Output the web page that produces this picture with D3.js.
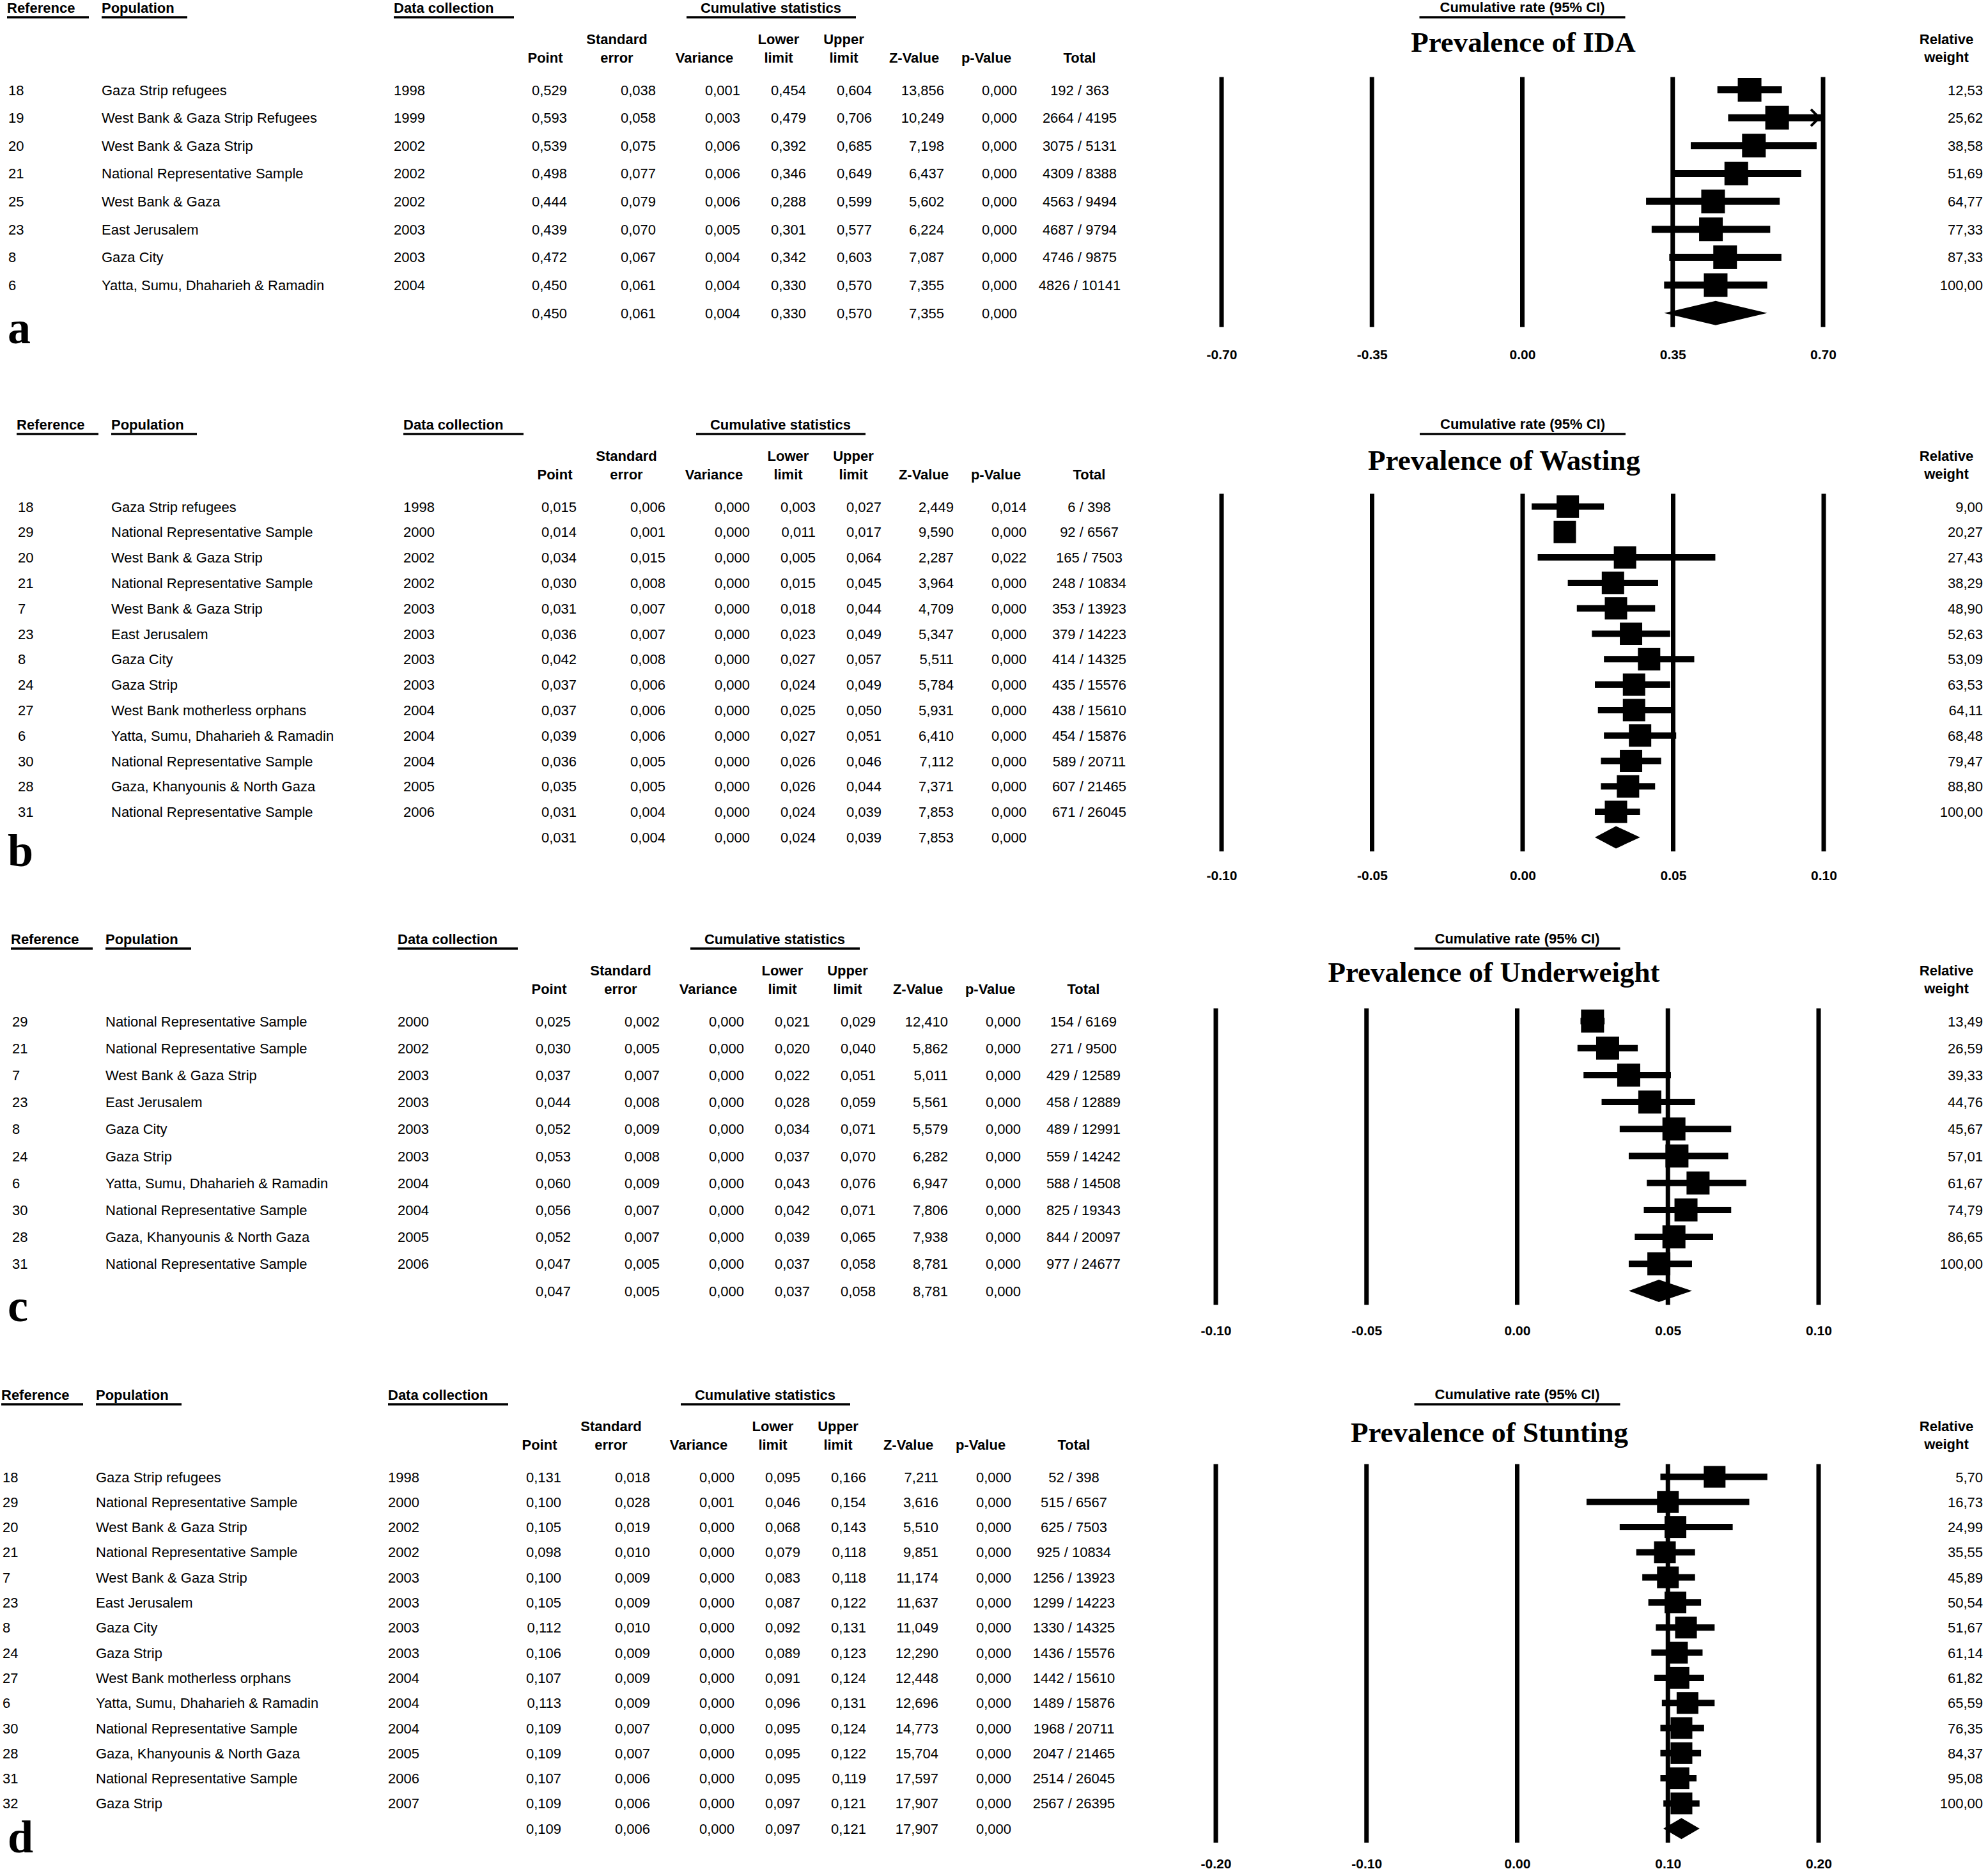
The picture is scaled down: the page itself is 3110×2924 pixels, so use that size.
<!DOCTYPE html>
<html><head><meta charset="utf-8">
<script src="https://cdn.jsdelivr.net/npm/d3@7"></script>
<style>body{margin:0;background:#fff}svg{display:block}</style>
</head><body>
<script>
// ===== Panel a : Prevalence of IDA =====
const aTitle = "Prevalence of IDA";
const aRefs = [18, 19, 20, 21, 25, 23, 8, 6];
const aPops = ["Gaza Strip refugees", "West Bank & Gaza Strip Refugees", "West Bank & Gaza Strip", "National Representative Sample", "West Bank & Gaza", "East Jerusalem", "Gaza City", "Yatta, Sumu, Dhaharieh & Ramadin"];
const aYears = [1998, 1999, 2002, 2002, 2002, 2003, 2003, 2004];
const aPoint = [0.529, 0.593, 0.539, 0.498, 0.444, 0.439, 0.472, 0.450];
const aSE = [0.038, 0.058, 0.075, 0.077, 0.079, 0.070, 0.067, 0.061];
const aVar = [0.001, 0.003, 0.006, 0.006, 0.006, 0.005, 0.004, 0.004];
const aLower = [0.454, 0.479, 0.392, 0.346, 0.288, 0.301, 0.342, 0.330];
const aUpper = [0.604, 0.706, 0.685, 0.649, 0.599, 0.577, 0.603, 0.570];
const aZ = [13.856, 10.249, 7.198, 6.437, 5.602, 6.224, 7.087, 7.355];
const aP = [0.000, 0.000, 0.000, 0.000, 0.000, 0.000, 0.000, 0.000];
const aTotals = ["192 / 363", "2664 / 4195", "3075 / 5131", "4309 / 8388", "4563 / 9494", "4687 / 9794", "4746 / 9875", "4826 / 10141"];
const aWeights = ["12,53", "25,62", "38,58", "51,69", "64,77", "77,33", "87,33", "100,00"];
const aSummary = [0.450, 0.061, 0.004, 0.330, 0.570, 7.355, 0.000];
const aTicks = [-0.70, -0.35, 0.00, 0.35, 0.70];

// ===== Panel b : Prevalence of Wasting =====
const bTitle = "Prevalence of Wasting";
const bRefs = [18, 29, 20, 21, 7, 23, 8, 24, 27, 6, 30, 28, 31];
const bPops = ["Gaza Strip refugees", "National Representative Sample", "West Bank & Gaza Strip", "National Representative Sample", "West Bank & Gaza Strip", "East Jerusalem", "Gaza City", "Gaza Strip", "West Bank motherless orphans", "Yatta, Sumu, Dhaharieh & Ramadin", "National Representative Sample", "Gaza, Khanyounis & North Gaza", "National Representative Sample"];
const bYears = [1998, 2000, 2002, 2002, 2003, 2003, 2003, 2003, 2004, 2004, 2004, 2005, 2006];
const bPoint = [0.015, 0.014, 0.034, 0.030, 0.031, 0.036, 0.042, 0.037, 0.037, 0.039, 0.036, 0.035, 0.031];
const bSE = [0.006, 0.001, 0.015, 0.008, 0.007, 0.007, 0.008, 0.006, 0.006, 0.006, 0.005, 0.005, 0.004];
const bVar = [0.000, 0.000, 0.000, 0.000, 0.000, 0.000, 0.000, 0.000, 0.000, 0.000, 0.000, 0.000, 0.000];
const bLower = [0.003, 0.011, 0.005, 0.015, 0.018, 0.023, 0.027, 0.024, 0.025, 0.027, 0.026, 0.026, 0.024];
const bUpper = [0.027, 0.017, 0.064, 0.045, 0.044, 0.049, 0.057, 0.049, 0.050, 0.051, 0.046, 0.044, 0.039];
const bZ = [2.449, 9.590, 2.287, 3.964, 4.709, 5.347, 5.511, 5.784, 5.931, 6.410, 7.112, 7.371, 7.853];
const bP = [0.014, 0.000, 0.022, 0.000, 0.000, 0.000, 0.000, 0.000, 0.000, 0.000, 0.000, 0.000, 0.000];
const bTotals = ["6 / 398", "92 / 6567", "165 / 7503", "248 / 10834", "353 / 13923", "379 / 14223", "414 / 14325", "435 / 15576", "438 / 15610", "454 / 15876", "589 / 20711", "607 / 21465", "671 / 26045"];
const bWeights = ["9,00", "20,27", "27,43", "38,29", "48,90", "52,63", "53,09", "63,53", "64,11", "68,48", "79,47", "88,80", "100,00"];
const bSummary = [0.031, 0.004, 0.000, 0.024, 0.039, 7.853, 0.000];
const bTicks = [-0.10, -0.05, 0.00, 0.05, 0.10];

// ===== Panel c : Prevalence of Underweight =====
const cTitle = "Prevalence of Underweight";
const cRefs = [29, 21, 7, 23, 8, 24, 6, 30, 28, 31];
const cPops = ["National Representative Sample", "National Representative Sample", "West Bank & Gaza Strip", "East Jerusalem", "Gaza City", "Gaza Strip", "Yatta, Sumu, Dhaharieh & Ramadin", "National Representative Sample", "Gaza, Khanyounis & North Gaza", "National Representative Sample"];
const cYears = [2000, 2002, 2003, 2003, 2003, 2003, 2004, 2004, 2005, 2006];
const cPoint = [0.025, 0.030, 0.037, 0.044, 0.052, 0.053, 0.060, 0.056, 0.052, 0.047];
const cSE = [0.002, 0.005, 0.007, 0.008, 0.009, 0.008, 0.009, 0.007, 0.007, 0.005];
const cVar = [0.000, 0.000, 0.000, 0.000, 0.000, 0.000, 0.000, 0.000, 0.000, 0.000];
const cLower = [0.021, 0.020, 0.022, 0.028, 0.034, 0.037, 0.043, 0.042, 0.039, 0.037];
const cUpper = [0.029, 0.040, 0.051, 0.059, 0.071, 0.070, 0.076, 0.071, 0.065, 0.058];
const cZ = [12.410, 5.862, 5.011, 5.561, 5.579, 6.282, 6.947, 7.806, 7.938, 8.781];
const cP = [0.000, 0.000, 0.000, 0.000, 0.000, 0.000, 0.000, 0.000, 0.000, 0.000];
const cTotals = ["154 / 6169", "271 / 9500", "429 / 12589", "458 / 12889", "489 / 12991", "559 / 14242", "588 / 14508", "825 / 19343", "844 / 20097", "977 / 24677"];
const cWeights = ["13,49", "26,59", "39,33", "44,76", "45,67", "57,01", "61,67", "74,79", "86,65", "100,00"];
const cSummary = [0.047, 0.005, 0.000, 0.037, 0.058, 8.781, 0.000];
const cTicks = [-0.10, -0.05, 0.00, 0.05, 0.10];

// ===== Panel d : Prevalence of Stunting =====
const dTitle = "Prevalence of Stunting";
const dRefs = [18, 29, 20, 21, 7, 23, 8, 24, 27, 6, 30, 28, 31, 32];
const dPops = ["Gaza Strip refugees", "National Representative Sample", "West Bank & Gaza Strip", "National Representative Sample", "West Bank & Gaza Strip", "East Jerusalem", "Gaza City", "Gaza Strip", "West Bank motherless orphans", "Yatta, Sumu, Dhaharieh & Ramadin", "National Representative Sample", "Gaza, Khanyounis & North Gaza", "National Representative Sample", "Gaza Strip"];
const dYears = [1998, 2000, 2002, 2002, 2003, 2003, 2003, 2003, 2004, 2004, 2004, 2005, 2006, 2007];
const dPoint = [0.131, 0.100, 0.105, 0.098, 0.100, 0.105, 0.112, 0.106, 0.107, 0.113, 0.109, 0.109, 0.107, 0.109];
const dSE = [0.018, 0.028, 0.019, 0.010, 0.009, 0.009, 0.010, 0.009, 0.009, 0.009, 0.007, 0.007, 0.006, 0.006];
const dVar = [0.000, 0.001, 0.000, 0.000, 0.000, 0.000, 0.000, 0.000, 0.000, 0.000, 0.000, 0.000, 0.000, 0.000];
const dLower = [0.095, 0.046, 0.068, 0.079, 0.083, 0.087, 0.092, 0.089, 0.091, 0.096, 0.095, 0.095, 0.095, 0.097];
const dUpper = [0.166, 0.154, 0.143, 0.118, 0.118, 0.122, 0.131, 0.123, 0.124, 0.131, 0.124, 0.122, 0.119, 0.121];
const dZ = [7.211, 3.616, 5.510, 9.851, 11.174, 11.637, 11.049, 12.290, 12.448, 12.696, 14.773, 15.704, 17.597, 17.907];
const dP = [0.000, 0.000, 0.000, 0.000, 0.000, 0.000, 0.000, 0.000, 0.000, 0.000, 0.000, 0.000, 0.000, 0.000];
const dTotals = ["52 / 398", "515 / 6567", "625 / 7503", "925 / 10834", "1256 / 13923", "1299 / 14223", "1330 / 14325", "1436 / 15576", "1442 / 15610", "1489 / 15876", "1968 / 20711", "2047 / 21465", "2514 / 26045", "2567 / 26395"];
const dWeights = ["5,70", "16,73", "24,99", "35,55", "45,89", "50,54", "51,67", "61,14", "61,82", "65,59", "76,35", "84,37", "95,08", "100,00"];
const dSummary = [0.109, 0.006, 0.000, 0.097, 0.121, 17.907, 0.000];
const dTicks = [-0.20, -0.10, 0.00, 0.10, 0.20];

// ===== Layout (positions only) =====
const W = 3110, H = 2924;
const SANS = "'Liberation Sans', Arial, Helvetica, sans-serif";
const SERIF = "'Liberation Serif', 'Times New Roman', Times, serif";

const panels = [
  {letter: "a", title: aTitle, refs: aRefs, pops: aPops, years: aYears, cols: [aPoint, aSE, aVar, aLower, aUpper, aZ, aP], lower: aLower, upper: aUpper, point: aPoint, totals: aTotals, weights: aWeights, summary: aSummary, ticks: aTicks,
   dx: 0, head: 20, pitch: 43.65, fr: [1911, 2852], titleX: 2383, titleDy: 61, tickDy: 50, letterDy: 39, sq: 37, ci: 11, dia: 38},
  {letter: "b", title: bTitle, refs: bRefs, pops: bPops, years: bYears, cols: [bPoint, bSE, bVar, bLower, bUpper, bZ, bP], lower: bLower, upper: bUpper, point: bPoint, totals: bTotals, weights: bWeights, summary: bSummary, ticks: bTicks,
   dx: 15, head: 672, pitch: 39.8, fr: [1911, 2853], titleX: 2353, titleDy: 62.5, tickDy: 45, letterDy: 37, sq: 35, ci: 10, dia: 35},
  {letter: "c", title: cTitle, refs: cRefs, pops: cPops, years: cYears, cols: [cPoint, cSE, cVar, cLower, cUpper, cZ, cP], lower: cLower, upper: cUpper, point: cPoint, totals: cTotals, weights: cWeights, summary: cSummary, ticks: cTicks,
   dx: 6, head: 1477, pitch: 42.2, fr: [1902, 2845], titleX: 2337, titleDy: 59, tickDy: 47, letterDy: 39, sq: 36, ci: 10, dia: 35},
  {letter: "d", title: dTitle, refs: dRefs, pops: dPops, years: dYears, cols: [dPoint, dSE, dVar, dLower, dUpper, dZ, dP], lower: dLower, upper: dUpper, point: dPoint, totals: dTotals, weights: dWeights, summary: dSummary, ticks: dTicks,
   dx: -9, head: 2190, pitch: 39.3, fr: [1902, 2845], titleX: 2330, titleDy: 66, tickDy: 40, letterDy: 29, sq: 34, ci: 10, dia: 33}
];

const headerDefs = [
  {t: "Reference", x: 11, u: [11, 139], anchor: "start"},
  {t: "Population", x: 159, u: [159, 293], anchor: "start"},
  {t: "Data collection", x: 616, u: [616, 804], anchor: "start"},
  {t: "Cumulative statistics", x: 1206, u: [1074, 1339], anchor: "middle"}
];
const subDefs = [
  {l1: "", l2: "Point", x: 853},
  {l1: "Standard", l2: "error", x: 965},
  {l1: "", l2: "Variance", x: 1102},
  {l1: "Lower", l2: "limit", x: 1218},
  {l1: "Upper", l2: "limit", x: 1320},
  {l1: "", l2: "Z-Value", x: 1430},
  {l1: "", l2: "p-Value", x: 1543},
  {l1: "", l2: "Total", x: 1689}
];
const colRight = [887, 1026, 1158, 1261, 1364, 1477, 1591];
const totalX = 1689, refX = 13, popX = 159, yearX = 616, weightRight = 3102, relX = 3045;

const fmt3 = v => d3.format(".3f")(v).replace(".", ",");
const fmtTick = v => d3.format(".2f")(v).replace("\u2212", "-");

const svg = d3.select("body").append("svg").attr("width", W).attr("height", H)
  .attr("viewBox", `0 0 ${W} ${H}`);
svg.append("rect").attr("width", W).attr("height", H).attr("fill", "#fff");

function txt(g, x, y, s, opt = {}) {
  return g.append("text").attr("x", x).attr("y", y).text(s)
    .attr("font-family", opt.family || SANS)
    .attr("font-size", opt.size || 22)
    .attr("font-weight", opt.weight || "normal")
    .attr("text-anchor", opt.anchor || "start")
    .attr("fill", "#000");
}

panels.forEach(P => {
  const g = svg.append("g");
  const n = P.refs.length;
  const dx = P.dx;
  const row0 = P.head + 128.5;
  const y = d3.scalePoint().domain(d3.range(n + 1)).range([row0, row0 + n * P.pitch]);
  const x = d3.scaleLinear().domain([P.ticks[0], P.ticks[P.ticks.length - 1]]).range(P.fr);
  const mid = v => v - 8; // visual centre of a text row

  // --- headers ---
  headerDefs.forEach(h => {
    txt(g, h.x + dx, P.head, h.t, {weight: "bold", anchor: h.anchor});
    g.append("line").attr("x1", h.u[0] + dx).attr("x2", h.u[1] + dx)
      .attr("y1", P.head + 7).attr("y2", P.head + 7)
      .attr("stroke", "#000").attr("stroke-width", 3.5);
  });
  const cx0 = x(0);
  txt(g, cx0, P.head - 1, "Cumulative rate (95% CI)", {weight: "bold", anchor: "middle"});
  g.append("line").attr("x1", cx0 - 161).attr("x2", cx0 + 161)
    .attr("y1", P.head + 7).attr("y2", P.head + 7)
    .attr("stroke", "#000").attr("stroke-width", 3.5);

  // --- sub headers ---
  subDefs.forEach(s => {
    if (s.l1) txt(g, s.x + dx, P.head + 49, s.l1, {weight: "bold", anchor: "middle"});
    txt(g, s.x + dx, P.head + 78, s.l2, {weight: "bold", anchor: "middle"});
  });
  txt(g, relX, P.head + 49, "Relative", {weight: "bold", anchor: "middle"});
  txt(g, relX, P.head + 77, "weight", {weight: "bold", anchor: "middle"});

  // --- title ---
  txt(g, P.titleX, P.head + P.titleDy, P.title, {family: SERIF, size: 45, weight: "bold", anchor: "middle"});

  // --- table rows ---
  d3.range(n).forEach(i => {
    const yy = y(i);
    txt(g, refX + dx, yy, P.refs[i]);
    txt(g, popX + dx, yy, P.pops[i]);
    txt(g, yearX + dx, yy, P.years[i]);
    P.cols.forEach((col, k) => txt(g, colRight[k] + dx, yy, fmt3(col[i]), {anchor: "end"}));
    txt(g, totalX + dx, yy, P.totals[i], {anchor: "middle"});
    txt(g, weightRight, yy, P.weights[i], {anchor: "end"});
  });
  // summary row
  P.summary.forEach((v, k) => txt(g, colRight[k] + dx, y(n), fmt3(v), {anchor: "end"}));

  // panel letter
  txt(g, 12, y(n) + P.letterDy, P.letter, {family: SERIF, size: 72, weight: "bold"});

  // --- forest plot ---
  const top = mid(y(0)) - 20, bottom = mid(y(n)) + 22;
  g.selectAll(".grid").data(P.ticks).join("line")
    .attr("x1", d => x(d)).attr("x2", d => x(d))
    .attr("y1", top).attr("y2", bottom)
    .attr("stroke", "#000").attr("stroke-width", 7);

  const axis = d3.axisBottom(x).tickValues(P.ticks).tickSize(0).tickPadding(0).tickFormat(fmtTick);
  const ag = g.append("g").attr("transform", `translate(0,${bottom + P.tickDy})`).call(axis);
  ag.select(".domain").remove();
  ag.selectAll("text").attr("dy", null).attr("y", 0)
    .attr("font-family", SANS).attr("font-size", 21).attr("font-weight", "bold").attr("fill", "#000");

  const [xmin, xmax] = x.domain();
  d3.range(n).forEach(i => {
    const yc = mid(y(i));
    const lo = Math.max(P.lower[i], xmin), hi = Math.min(P.upper[i], xmax);
    g.append("line").attr("x1", x(lo)).attr("x2", x(hi)).attr("y1", yc).attr("y2", yc)
      .attr("stroke", "#000").attr("stroke-width", P.ci);
    if (P.upper[i] > xmax) {
      const tx = x(xmax) - 6;
      g.append("polyline")
        .attr("points", `${tx - 13},${yc - 13} ${tx},${yc} ${tx - 13},${yc + 13}`)
        .attr("fill", "none").attr("stroke", "#000").attr("stroke-width", 4);
    }
    if (P.lower[i] < xmin) {
      const tx = x(xmin) + 6;
      g.append("polyline")
        .attr("points", `${tx + 13},${yc - 13} ${tx},${yc} ${tx + 13},${yc + 13}`)
        .attr("fill", "none").attr("stroke", "#000").attr("stroke-width", 4);
    }
    g.append("rect").attr("x", x(P.point[i]) - P.sq / 2).attr("y", yc - P.sq / 2)
      .attr("width", P.sq).attr("height", P.sq).attr("fill", "#000");
  });
  // summary diamond
  const ys = mid(y(n));
  const s = P.summary;
  g.append("polygon")
    .attr("points", [[x(s[3]), ys], [x(s[0]), ys - P.dia / 2], [x(s[4]), ys], [x(s[0]), ys + P.dia / 2]].map(p => p.join(",")).join(" "))
    .attr("fill", "#000");
});
</script>
</body></html>
